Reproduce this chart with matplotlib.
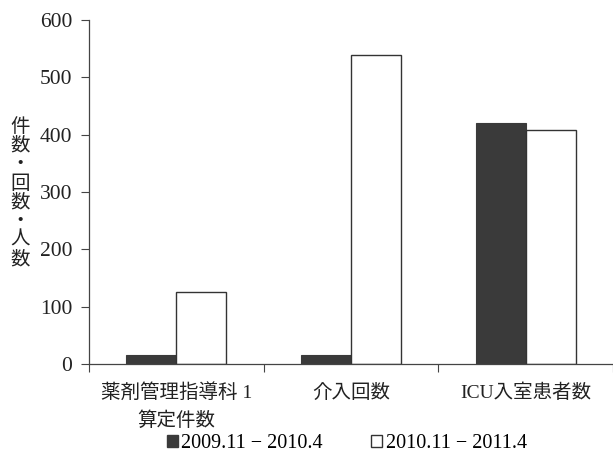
import matplotlib
matplotlib.use("Agg")
import matplotlib.pyplot as plt
from matplotlib.patches import Rectangle
import numpy as np

categories = ["薬剤管理指導科 1\n算定件数", "介入回数", "ICU入室患者数"]
series_names = ["2009.11 − 2010.4", "2010.11 − 2011.4"]
series1 = [16, 15, 420]
series2 = [126, 539, 408]
yticks = [0, 100, 200, 300, 400, 500, 600]

FAM = ["Liberation Serif", "Noto Sans CJK JP"]

fig = plt.figure(figsize=(6.13, 4.66), dpi=100)
ax = fig.add_axes([89/613, 1-364/466, 1-89/613, (364-20)/466])

x = np.arange(len(categories))
w = 0.287
ax.bar(x - w/2, series1, w, color="#3a3a3a", edgecolor="#3a3a3a", linewidth=0.8)
ax.bar(x + w/2, series2, w, color="white", edgecolor="#333333", linewidth=1.0)

ax.set_xlim(-0.5, 2.5)
ax.set_ylim(0, 600)
ax.set_yticks(yticks)
ax.set_yticklabels([str(v) for v in yticks], family=FAM, fontsize=15.5, color="#222222")
ax.tick_params(axis="y", length=6, width=0.8, color="#444444", pad=6)

ax.set_xticks(x)
ax.set_xticklabels(categories, family=FAM, fontsize=14, color="#222222", linespacing=1.6)
ax.tick_params(axis="x", which="major", length=0, pad=14)
ax.set_xticks([-0.5, 0.5, 1.5, 2.5], minor=True)
ax.tick_params(axis="x", which="minor", length=6, width=0.8, color="#444444")

for s in ["top", "right"]:
    ax.spines[s].set_visible(False)
for s in ["left", "bottom"]:
    ax.spines[s].set_color("#444444")
    ax.spines[s].set_linewidth(0.9)

fig.text(20/613, 1-193/466, "件\n数\n・\n回\n数\n・\n人\n数", family=FAM, fontsize=14,
         ha="center", va="center", linespacing=1.12, color="#222222")

handles = [Rectangle((0, 0), 1, 1, facecolor="#3a3a3a", edgecolor="#3a3a3a"),
           Rectangle((0, 0), 1, 1, facecolor="white", edgecolor="#333333")]
fig.legend(handles, series_names, loc="center", bbox_to_anchor=(347/613, 1-444/466),
           ncol=2, frameon=False, handlelength=0.55, handleheight=0.55,
           handletextpad=0.15, columnspacing=2.4,
           prop={"family": FAM, "size": 14.5})

fig.savefig("out.png", dpi=100)
